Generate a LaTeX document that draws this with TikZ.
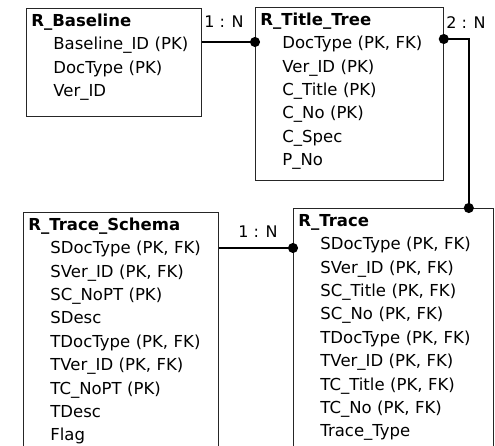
\documentclass[tikz,border=0pt]{standalone}
\usepackage{fontspec}
\setmainfont{DejaVu Sans}
\usepackage{tikz}
\usetikzlibrary{positioning, arrows.meta}

\newcommand{\fld}[1]{\hspace*{22pt}#1}

\begin{document}
\begin{tikzpicture}[x=1pt, y=-1pt,
  entity/.style={rectangle, draw=black!85, line width=0.8pt, anchor=north west, inner xsep=5pt, inner ysep=5pt,
    align=left, font=\fontsize{16.5}{23.4}\selectfont, text height=13pt},
  rel/.style={line width=1.6pt, {Circle[length=10pt]}-{Circle[length=10pt]}, shorten <=-5pt, shorten >=-5pt},
  relone/.style={line width=1.6pt, -{Circle[length=10pt]}, shorten >=-5pt},
  card/.style={font=\fontsize{16}{18}\selectfont, inner sep=1pt}]

\fill[white] (0,0) rectangle (495,446);
\path[use as bounding box] (0,0) rectangle (495,446);
\clip (0,0) rectangle (495,446);

% Tables
\node[entity, text width=165pt, text depth=85pt] (baseline) at (26,8) {
    \textbf{R\_Baseline} \\
    \fld{Baseline\_ID (PK)} \\
    \fld{DocType (PK)} \\
    \fld{Ver\_ID}
};

\node[entity, text width=178pt, text depth=150pt] (titletree) at (255,7) {
    \textbf{R\_Title\_Tree} \\
    \fld{DocType (PK, FK)} \\
    \fld{Ver\_ID (PK)} \\
    \fld{C\_Title (PK)} \\
    \fld{C\_No (PK)} \\
    \fld{C\_Spec} \\
    \fld{P\_No}
};

\node[entity, text width=185pt, text depth=300pt] (traceschema) at (23,212) {
    \textbf{R\_Trace\_Schema} \\
    \fld{SDocType (PK, FK)} \\
    \fld{SVer\_ID (PK, FK)} \\
    \fld{SC\_NoPT (PK)} \\
    \fld{SDesc} \\
    \fld{TDocType (PK, FK)} \\
    \fld{TVer\_ID (PK, FK)} \\
    \fld{TC\_NoPT (PK)} \\
    \fld{TDesc} \\
    \fld{Flag}
};

\node[entity, text width=190pt, text depth=300pt] (trace) at (293,208) {
    \textbf{R\_Trace} \\
    \fld{SDocType (PK, FK)} \\
    \fld{SVer\_ID (PK, FK)} \\
    \fld{SC\_Title (PK, FK)} \\
    \fld{SC\_No (PK, FK)} \\
    \fld{TDocType (PK, FK)} \\
    \fld{TVer\_ID (PK, FK)} \\
    \fld{TC\_Title (PK, FK)} \\
    \fld{TC\_No (PK, FK)} \\
    \fld{Trace\_Type}
};

% Relations
\draw[relone] ([yshift=-34pt]baseline.north east) -- ([yshift=-35pt]titletree.north west);
\draw[rel] ([yshift=-32pt]titletree.north east) -| ([xshift=-25pt]trace.north east);
\draw[relone] ([yshift=-36pt]traceschema.north east) -- ([yshift=-40pt]trace.north west);

% Cardinalities
\node[card] (card1) at (224,22) {1 : N};
\node[card] (card2) at (466,23) {2 : N};
\node[card] (card3) at (258,232) {1 : N};

\end{tikzpicture}
\end{document}
